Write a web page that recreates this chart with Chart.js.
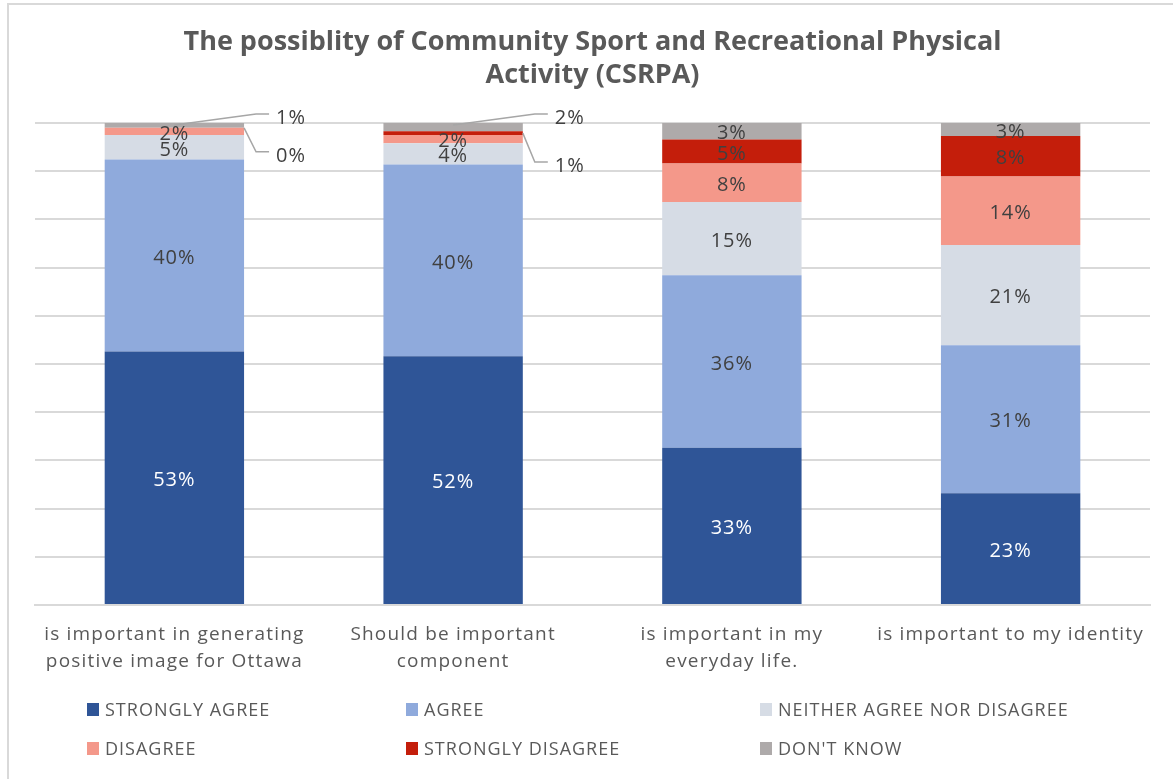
<!DOCTYPE html>
<html>
<head>
<meta charset="utf-8">
<title>CSRPA survey</title>
<script src="https://cdn.jsdelivr.net/npm/chart.js@4.4.1/dist/chart.umd.min.js"></script>
<style>
    html, body { margin: 0; padding: 0; background: #fff; }
    #wrap { position: relative; width: 1173px; height: 779px; overflow: hidden; }
    #frame {
        position: absolute; left: 7px; top: 3px; width: 1300px; height: 900px;
        border-left: 2px solid #d9d9d9; border-top: 2px solid #d9d9d9;
    }
    #chart { position: absolute; left: 0; top: 0; }
    #legend { position: absolute; left: 0; top: 0; width: 1173px; height: 779px; pointer-events: none; }
    .legend-item {
        position: absolute; display: flex; align-items: center;
        font-family: "Open Sans", sans-serif; font-size: 18px; color: #595959;
        letter-spacing: 1px; white-space: nowrap;
    }
    .legend-item span.box { width: 12px; height: 13px; margin-right: 6px; display: inline-block; }
</style>
</head>
<body>
<div id="wrap">
    <div id="frame"></div>
    <canvas id="chart" width="1173" height="779"></canvas>
    <div id="legend"></div>
</div>
<script>
// survey answers, percent of respondents per statement
const categories = [
    ['is important in generating', 'positive image for Ottawa'],
    ['Should be important', 'component'],
    ['is important in my', 'everyday life.'],
    ['is important to my identity']
];
const stronglyAgree = [52.6, 51.6, 32.6, 23.2];
const agree = [39.8, 39.8, 35.8, 30.7];
const neither = [5.1, 4.4, 15.2, 20.8];
const disagree = [1.5, 1.7, 8.0, 14.2];
const stronglyDisagree = [0.0, 0.8, 5.0, 8.4];
const dontKnow = [1.0, 1.7, 3.4, 2.7];

const seriesNames = ['STRONGLY AGREE', 'AGREE', 'NEITHER AGREE NOR DISAGREE', 'DISAGREE', 'STRONGLY DISAGREE', "DON'T KNOW"];
const seriesColors = ['#2F5597', '#8FAADC', '#D6DCE5', '#F4988A', '#C41E0B', '#AEAAAA'];
const seriesValues = [stronglyAgree, agree, neither, disagree, stronglyDisagree, dontKnow];

const textGray = '#595959';

// percentage labels, small segments get a leader line to the right
const valueLabels = {
    id: 'valueLabels',
    afterDatasetsDraw(chart, args, opts) {
        const ctx = chart.ctx;
        ctx.save();
        ctx.font = '20px "Open Sans"';
        ctx.letterSpacing = '1px';
        ctx.textBaseline = 'middle';
        chart.data.datasets.forEach((ds, di) => {
            const meta = chart.getDatasetMeta(di);
            meta.data.forEach((bar, i) => {
                const text = Math.round(ds.data[i]) + '%';
                const midY = (bar.y + bar.base) / 2;
                const right = bar.x + bar.width / 2;
                const callout = opts.callouts.find(c => c.dataset === di && c.index === i);
                if (callout) {
                    let startX, startY;
                    if (callout.fromTop) {
                        startX = bar.x;
                        startY = bar.y + 2;
                    } else {
                        startX = right;
                        startY = midY;
                    }
                    const lineY = callout.fromTop ? bar.y + callout.dy : midY + callout.dy;
                    ctx.strokeStyle = '#A6A6A6';
                    ctx.lineWidth = 1.5;
                    ctx.beginPath();
                    ctx.moveTo(startX, startY);
                    ctx.lineTo(right + 12, lineY);
                    ctx.lineTo(right + 25, lineY);
                    ctx.stroke();
                    ctx.fillStyle = '#404040';
                    ctx.textAlign = 'left';
                    ctx.fillText(text, right + 32, lineY + 4);
                } else {
                    ctx.fillStyle = di === 0 ? '#ffffff' : '#404040';
                    ctx.textAlign = 'center';
                    ctx.fillText(text, bar.x, midY + 2.5);
                }
            });
        });
        ctx.restore();
    }
};

// category names under the bars, a little letter-spaced
const categoryLabels = {
    id: 'categoryLabels',
    afterDraw(chart) {
        const ctx = chart.ctx;
        const xScale = chart.scales.x;
        ctx.save();
        ctx.font = '19px "Open Sans"';
        ctx.letterSpacing = '1.2px';
        ctx.fillStyle = textGray;
        ctx.textAlign = 'center';
        ctx.textBaseline = 'middle';
        chart.data.labels.forEach((lines, i) => {
            const x = xScale.getPixelForTick(i);
            lines.forEach((line, j) => {
                ctx.fillText(line, x, xScale.top + 30 + j * 27);
            });
        });
        ctx.restore();
    }
};

const datasets = seriesNames.map((name, k) => ({
    label: name,
    data: seriesValues[k],
    backgroundColor: seriesColors[k],
    borderWidth: 0,
    categoryPercentage: 1.0,
    barPercentage: 0.5
}));

const chart = new Chart(document.getElementById('chart'), {
    type: 'bar',
    data: { labels: categories, datasets: datasets },
    plugins: [valueLabels, categoryLabels],
    options: {
        responsive: false,
        animation: false,
        layout: { padding: { left: 35, right: 23, top: 0, bottom: 0 } },
        plugins: {
            legend: { display: false },
            tooltip: { enabled: false },
            title: {
                display: true,
                text: ['The possiblity of Community Sport and Recreational Physical', 'Activity (CSRPA)'],
                color: textGray,
                font: { family: 'Open Sans', size: 27, weight: 'bold', lineHeight: 1.222 },
                padding: { top: 25.5, bottom: 31.5 }
            },
            valueLabels: {
                callouts: [
                    { dataset: 5, index: 0, fromTop: true, dy: -9 },
                    { dataset: 4, index: 0, fromTop: false, dy: 24 },
                    { dataset: 5, index: 1, fromTop: true, dy: -9 },
                    { dataset: 4, index: 1, fromTop: false, dy: 29 }
                ]
            }
        },
        scales: {
            x: {
                stacked: true,
                grid: { display: false, drawTicks: false },
                border: { color: '#d9d9d9', width: 2 },
                ticks: { display: false },
                afterFit(scale) { scale.height = 174; }
            },
            y: {
                stacked: true,
                min: 0,
                max: 100,
                ticks: { display: false, stepSize: 10 },
                grid: { color: '#d9d9d9', lineWidth: 2, drawTicks: false },
                border: { display: false },
                afterFit(scale) { scale.width = 0; }
            }
        }
    }
});

// legend in three columns under the plot
const legendCols = [87, 406, 760];
const legendRows = [710, 749];
const legendBox = document.getElementById('legend');
chart.data.datasets.forEach((ds, k) => {
    const item = document.createElement('div');
    item.className = 'legend-item';
    item.style.left = legendCols[k % 3] + 'px';
    item.style.top = (legendRows[Math.floor(k / 3)] - 13) + 'px';
    item.innerHTML = `<span class="box" style="background:${ds.backgroundColor}"></span>${ds.label}`;
    legendBox.appendChild(item);
});
</script>
</body>
</html>
